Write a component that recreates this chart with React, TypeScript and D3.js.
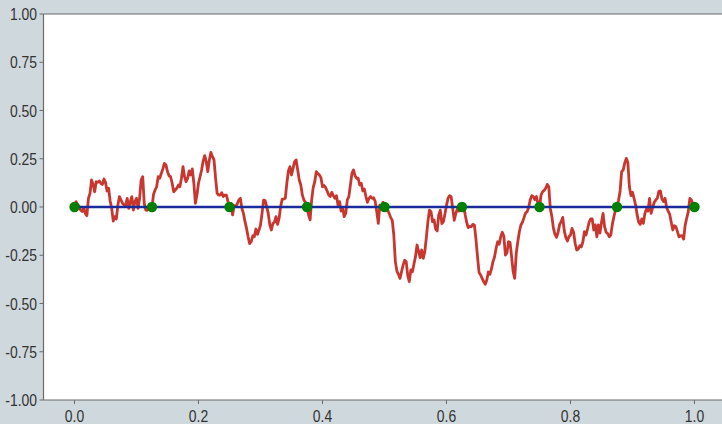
import * as React from "react";
import * as d3 from "d3";

// path samples, evenly spaced over [0, 1] (step 0.0025)
const pathValues = [
  0, 0.028, 0.014, 0.002, -0.016, -0.024, -0.003, -0.033, -0.045, 0.045,
  0.071, 0.14, 0.117, 0.079, 0.131, 0.128, 0.135, 0.123, 0.117, 0.145,
  0.128, 0.083, 0.097, 0.031, -0.007, -0.073, -0.05, -0.062, 0.01, 0.054,
  0.036, 0.019, 0.01, 0.01, 0.045, -0.007, 0.028, 0.054, -0.016, 0.028,
  0.045, -0.007, 0.045, 0.14, 0.157, 0.019, -0.016, -0.017, -0.01, -0.012,
  0, 0.066, 0.088, 0.105, 0.157, 0.149, 0.174, 0.197, 0.226, 0.218,
  0.183, 0.162, 0.157, 0.123, 0.079, 0.088, 0.097, 0.114, 0.105, 0.149,
  0.209, 0.157, 0.131, 0.149, 0.187, 0.166, 0.197, 0.123, 0.019, 0.062,
  0.123, 0.157, 0.192, 0.238, 0.266, 0.235, 0.183, 0.244, 0.283, 0.261,
  0.244, 0.152, 0.071, 0.062, 0.062, 0.074, 0.054, 0.062, 0.062, 0.028,
  0, 0.019, -0.041, 0.007, 0.002, 0.017, 0.036, 0.045, -0.007, -0.033,
  -0.076, -0.111, -0.154, -0.19, -0.18, -0.149, -0.154, -0.114, -0.142, -0.121,
  -0.093, -0.033, 0.036, 0.033, 0.002, -0.033, -0.093, -0.119, -0.085, -0.079,
  -0.05, -0.09, -0.059, 0.002, 0.041, 0.041, 0.045, 0.123, 0.187, 0.209,
  0.166, 0.2, 0.235, 0.244, 0.192, 0.14, 0.114, 0.062, 0.036, 0.024,
  0, -0.041, -0.067, 0.036, 0.1, 0.131, 0.183, 0.174, 0.166, 0.152,
  0.105, 0.111, 0.1, 0.083, 0.062, 0.054, 0.076, 0.059, 0.045, 0.059,
  0.01, 0.028, -0.021, -0.003, -0.05, -0.033, 0.036, 0.054, 0.114, 0.174,
  0.192, 0.162, 0.149, 0.149, 0.114, 0.123, 0.083, 0.093, 0.054, 0.024,
  0.045, 0.054, 0.045, 0.048, 0.028, -0.024, -0.085, 0.01, -0.007, 0.024,
  0, -0.003, -0.016, -0.033, -0.055, -0.069, -0.145, -0.283, -0.332, -0.349,
  -0.37, -0.335, -0.301, -0.276, -0.283, -0.356, -0.387, -0.326, -0.335, -0.295,
  -0.257, -0.197, -0.228, -0.263, -0.223, -0.266, -0.231, -0.159, -0.076, -0.016,
  -0.024, -0.076, -0.067, -0.114, -0.124, -0.041, -0.016, -0.086, -0.076, -0.036,
  0.01, 0.045, 0.059, 0.054, -0.007, -0.069, -0.033, -0.01, -0.021, -0.007,
  0, 0.014, -0.038, -0.079, -0.107, -0.1, -0.102, -0.09, -0.093, -0.166,
  -0.257, -0.339, -0.352, -0.37, -0.387, -0.401, -0.378, -0.337, -0.349, -0.321,
  -0.283, -0.259, -0.214, -0.18, -0.193, -0.154, -0.131, -0.152, -0.249, -0.237,
  -0.18, -0.183, -0.257, -0.335, -0.37, -0.24, -0.18, -0.128, -0.093, -0.079,
  -0.055, -0.031, -0.024, -0.003, 0.036, 0.059, 0.054, 0.038, 0.054, 0.017,
  0, 0.062, 0.079, 0.086, 0.097, 0.117, 0.105, -0.01, -0.05, -0.111,
  -0.142, -0.157, -0.131, -0.09, -0.076, -0.054, -0.124, -0.159, -0.176, -0.154,
  -0.145, -0.111, -0.131, -0.188, -0.223, -0.218, -0.2, -0.207, -0.18, -0.128,
  -0.145, -0.114, -0.079, -0.062, -0.062, -0.119, -0.093, -0.155, -0.093, -0.135,
  -0.079, -0.033, -0.102, -0.131, -0.138, -0.154, -0.145, -0.09, -0.05, -0.017,
  0, 0.035, 0.083, 0.183, 0.192, 0.228, 0.252, 0.231, 0.105, 0.059,
  0.076, 0.045, 0.01, -0.041, -0.079, -0.09, -0.062, -0.085, -0.033, -0.01,
  -0.021, 0.045, -0.033, -0.003, 0.024, 0.036, 0.045, 0.081, 0.083, 0.041,
  0.028, 0.045, -0.003, -0.022, -0.038, -0.079, -0.119, -0.097, -0.102, -0.128,
  -0.154, -0.15, -0.149, -0.166, -0.093, -0.057, -0.024, 0.045, 0.036, 0.014,
  0,
];

const knotX = [0, 0.125, 0.25, 0.375, 0.5, 0.625, 0.75, 0.875, 1.0];
const knotY = [0, 0, 0, 0, 0, 0, 0, 0, 0];

const xTicks = [0, 0.2, 0.4, 0.6, 0.8, 1.0];
const xTickLabels = ["0.0", "0.2", "0.4", "0.6", "0.8", "1.0"];
const yTicks = [-1, -0.75, -0.5, -0.25, 0, 0.25, 0.5, 0.75, 1];
const yTickLabels = ["-1.00", "-0.75", "-0.50", "-0.25", "0.00", "0.25", "0.50", "0.75", "1.00"];

export default function App() {
  const width = 722;
  const height = 424;
  const left = 43.5;
  const top = 14;
  const bottom = 400;

  const x = d3.scaleLinear().domain([-0.05, 1.05]).range([left, left + 682]);
  const y = d3.scaleLinear().domain([-1, 1]).range([bottom, top]);

  const n = pathValues.length;
  const red = d3
    .line<number>()
    .x((d, i) => x(i / (n - 1)))
    .y((d) => y(d));

  const blue = d3
    .line<number>()
    .x((d, i) => x(knotX[i]))
    .y((d) => y(d));

  const font = "'Liberation Sans', Arial, sans-serif";
  const squeeze = 0.82;
  const axisColor = "#6b6b6b";

  return (
    <svg
      width={width}
      height={height}
      style={{ position: "absolute", left: 0, top: 0, display: "block" }}
    >
      <rect x={0} y={0} width={width} height={height} fill="#cfd8dc" />
      <rect x={left} y={top} width={width - left} height={bottom - top} fill="#ffffff" />

      <path d={red(pathValues) || ""} fill="none" stroke="#c9362f" strokeWidth={2.8} strokeLinejoin="round" />
      <path d={blue(knotY) || ""} fill="none" stroke="#1a2c9c" strokeWidth={2.4} />
      {knotX.map((k, i) => (
        <circle key={i} cx={x(k)} cy={y(knotY[i])} r={5.2} fill="#008000" />
      ))}

      {/* frame */}
      <line x1={left} x2={width} y1={top} y2={top} stroke={axisColor} strokeWidth={1.2} />
      <line x1={left} x2={left} y1={top} y2={bottom} stroke={axisColor} strokeWidth={1.2} />
      <line x1={left} x2={width} y1={bottom} y2={bottom} stroke={axisColor} strokeWidth={1.2} />

      {yTicks.map((t, i) => (
        <g key={i} transform={`translate(0, ${y(t)})`}>
          <line x1={left - 4} x2={left} stroke={axisColor} strokeWidth={1} />
          <text
            transform={`translate(${left - 6.5}, 0) scale(${squeeze}, 1)`}
            dy="0.36em"
            textAnchor="end"
            fontFamily={font}
            fontSize={17}
            fill="#333333"
          >
            {yTickLabels[i]}
          </text>
        </g>
      ))}

      {xTicks.map((t, i) => (
        <g key={i} transform={`translate(${x(t)}, ${bottom})`}>
          <line y1={0} y2={4} stroke={axisColor} strokeWidth={1} />
          <text
            transform={`translate(0, 21.5) scale(${squeeze}, 1)`}
            textAnchor="middle"
            fontFamily={font}
            fontSize={17}
            fill="#333333"
          >
            {xTickLabels[i]}
          </text>
        </g>
      ))}
    </svg>
  );
}
